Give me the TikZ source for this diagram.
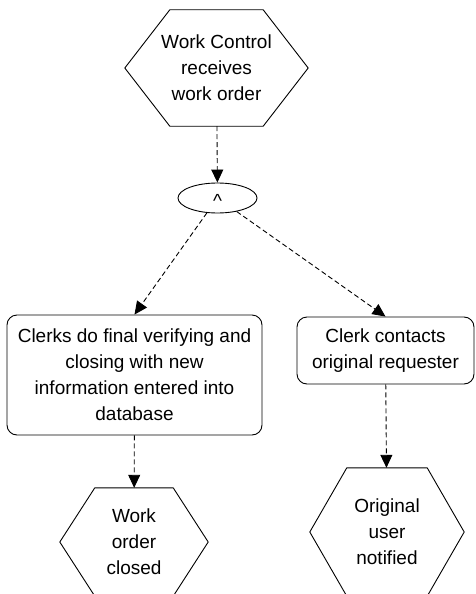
\documentclass[tikz,border=0pt]{standalone}
\usepackage{fontspec}
\setmainfont{Liberation Sans}
\usetikzlibrary{shapes,arrows.meta}
\tikzset{hexa/.style={rectangle,inner sep=0pt,align=center,
  font=\fontsize{19}{26}\selectfont,
  append after command={\pgfextra{\draw[line width=0.9pt,line join=round]
    (\tikzlastnode.west) -- ([xshift=#1]\tikzlastnode.north west)
    -- ([xshift=-#1]\tikzlastnode.north east) -- (\tikzlastnode.east)
    -- ([xshift=-#1]\tikzlastnode.south east)
    -- ([xshift=#1]\tikzlastnode.south west) -- cycle;}}}}
\tikzstyle{act}=[rectangle,rounded corners=10pt,draw=black,line width=0.9pt,
  inner sep=0pt,align=center,font=\fontsize{19}{26}\selectfont]
\tikzstyle{andop}=[ellipse,draw=black,line width=0.9pt,inner sep=0pt,
  minimum width=79pt,minimum height=30pt,font=\fontsize{19}{26}\selectfont]
\tikzstyle{flow}=[line width=0.9pt,dash pattern=on 5pt off 3pt,
  -{Triangle[length=13pt,width=12pt]}]

\begin{document}
\begin{tikzpicture}[x=1pt,y=-1pt]
    \useasboundingbox (0,0) rectangle (475,594);
    \node [hexa=45pt,minimum width=183pt,minimum height=116pt]
      (start) at (216.5,68) {Work Control\\receives\\work order};
    \node [style=andop] (and) at (217.5,198) {\smash{\raisebox{-0.52em}{\textasciicircum}}};
    \node [style=act,minimum width=255pt,minimum height=120pt]
      (verify) at (134.5,375) {Clerks do final verifying and\\closing with new\\information entered into\\database};
    \node [style=act,minimum width=177pt,minimum height=67pt]
      (contact) at (385.5,350.5) {Clerk contacts\\original requester};
    \node [hexa=35pt,minimum width=148pt,minimum height=108pt]
      (closed) at (134,542) {Work\\order\\closed};
    \node [hexa=37pt,minimum width=154pt,minimum height=128pt]
      (notified) at (387,532) {Original\\user\\notified};
    \draw [style=flow] (start) to (and);
    \draw [style=flow] (and) to (verify.north);
    \draw [style=flow] (and) to (contact.north);
    \draw [style=flow] (verify) to (closed);
    \draw [style=flow] (contact) to (notified);
\end{tikzpicture}
\end{document}
